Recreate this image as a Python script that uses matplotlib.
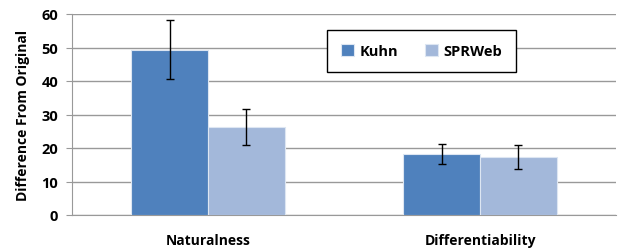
import matplotlib
matplotlib.use("Agg")
import matplotlib.pyplot as plt
import numpy as np

categories = ["Naturalness", "Differentiability"]
series = ["Kuhn", "SPRWeb"]
kuhn = [49.3, 18.2]
kuhn_err = [8.8, 2.9]
sprweb = [26.2, 17.2]
sprweb_err = [5.4, 3.6]
yticks = [0, 10, 20, 30, 40, 50, 60]

plt.rcParams['font.family'] = ['Open Sans', 'DejaVu Sans']
fig = plt.figure(figsize=(6.18, 2.53), dpi=100)
ax = fig.add_axes([72/618, 1-216/253, (616-72)/618, (216-15)/253])

x = np.arange(len(categories))
w = 0.283
c1, c2 = "#4F81BD", "#A3B8DA"
ax.bar(x - w/2, kuhn, w, color=c1, edgecolor="#dde6f2", linewidth=0.8, label=series[0], zorder=3)
ax.bar(x + w/2, sprweb, w, color=c2, edgecolor="#dde6f2", linewidth=0.8, label=series[1], zorder=3)
ax.errorbar(x - w/2, kuhn, yerr=kuhn_err, fmt="none", ecolor="black", elinewidth=1, capsize=3, capthick=1, zorder=4)
ax.errorbar(x + w/2, sprweb, yerr=sprweb_err, fmt="none", ecolor="black", elinewidth=1, capsize=3, capthick=1, zorder=4)

ax.set_xlim(-0.5, 1.5)
ax.set_ylim(0, 60)
ax.set_yticks(yticks)
ax.set_yticklabels([str(t) for t in yticks], fontsize=10.5, fontweight="bold")
ax.set_xticks(x)
ax.set_xticklabels(categories, fontsize=10, fontweight="bold")
ax.tick_params(axis="x", length=0, pad=13)
ax.tick_params(axis="y", length=4, color="#999999", pad=6)
ax.grid(axis="y", color="#999999", linewidth=1, zorder=0)
ax.set_axisbelow(True)
for s in ["top", "right"]:
    ax.spines[s].set_visible(False)
ax.spines["left"].set_color("#999999")
ax.spines["bottom"].set_color("#999999")
ax.set_ylabel("Difference From Original", fontsize=10, fontweight="bold", labelpad=8)

leg = ax.legend(loc="upper left", bbox_to_anchor=((327-72)/544, (216-31)/201), ncol=2,
                frameon=True, fancybox=False, edgecolor="black",
                prop={"weight": "bold", "size": 10.5}, handlelength=0.9, handleheight=0.9,
                columnspacing=1.8, handletextpad=0.4, borderpad=0.95, borderaxespad=0)
leg.get_frame().set_linewidth(1)
leg.get_frame().set_facecolor("white")
leg.get_frame().set_alpha(1)

fig.savefig("out.png", dpi=100)
